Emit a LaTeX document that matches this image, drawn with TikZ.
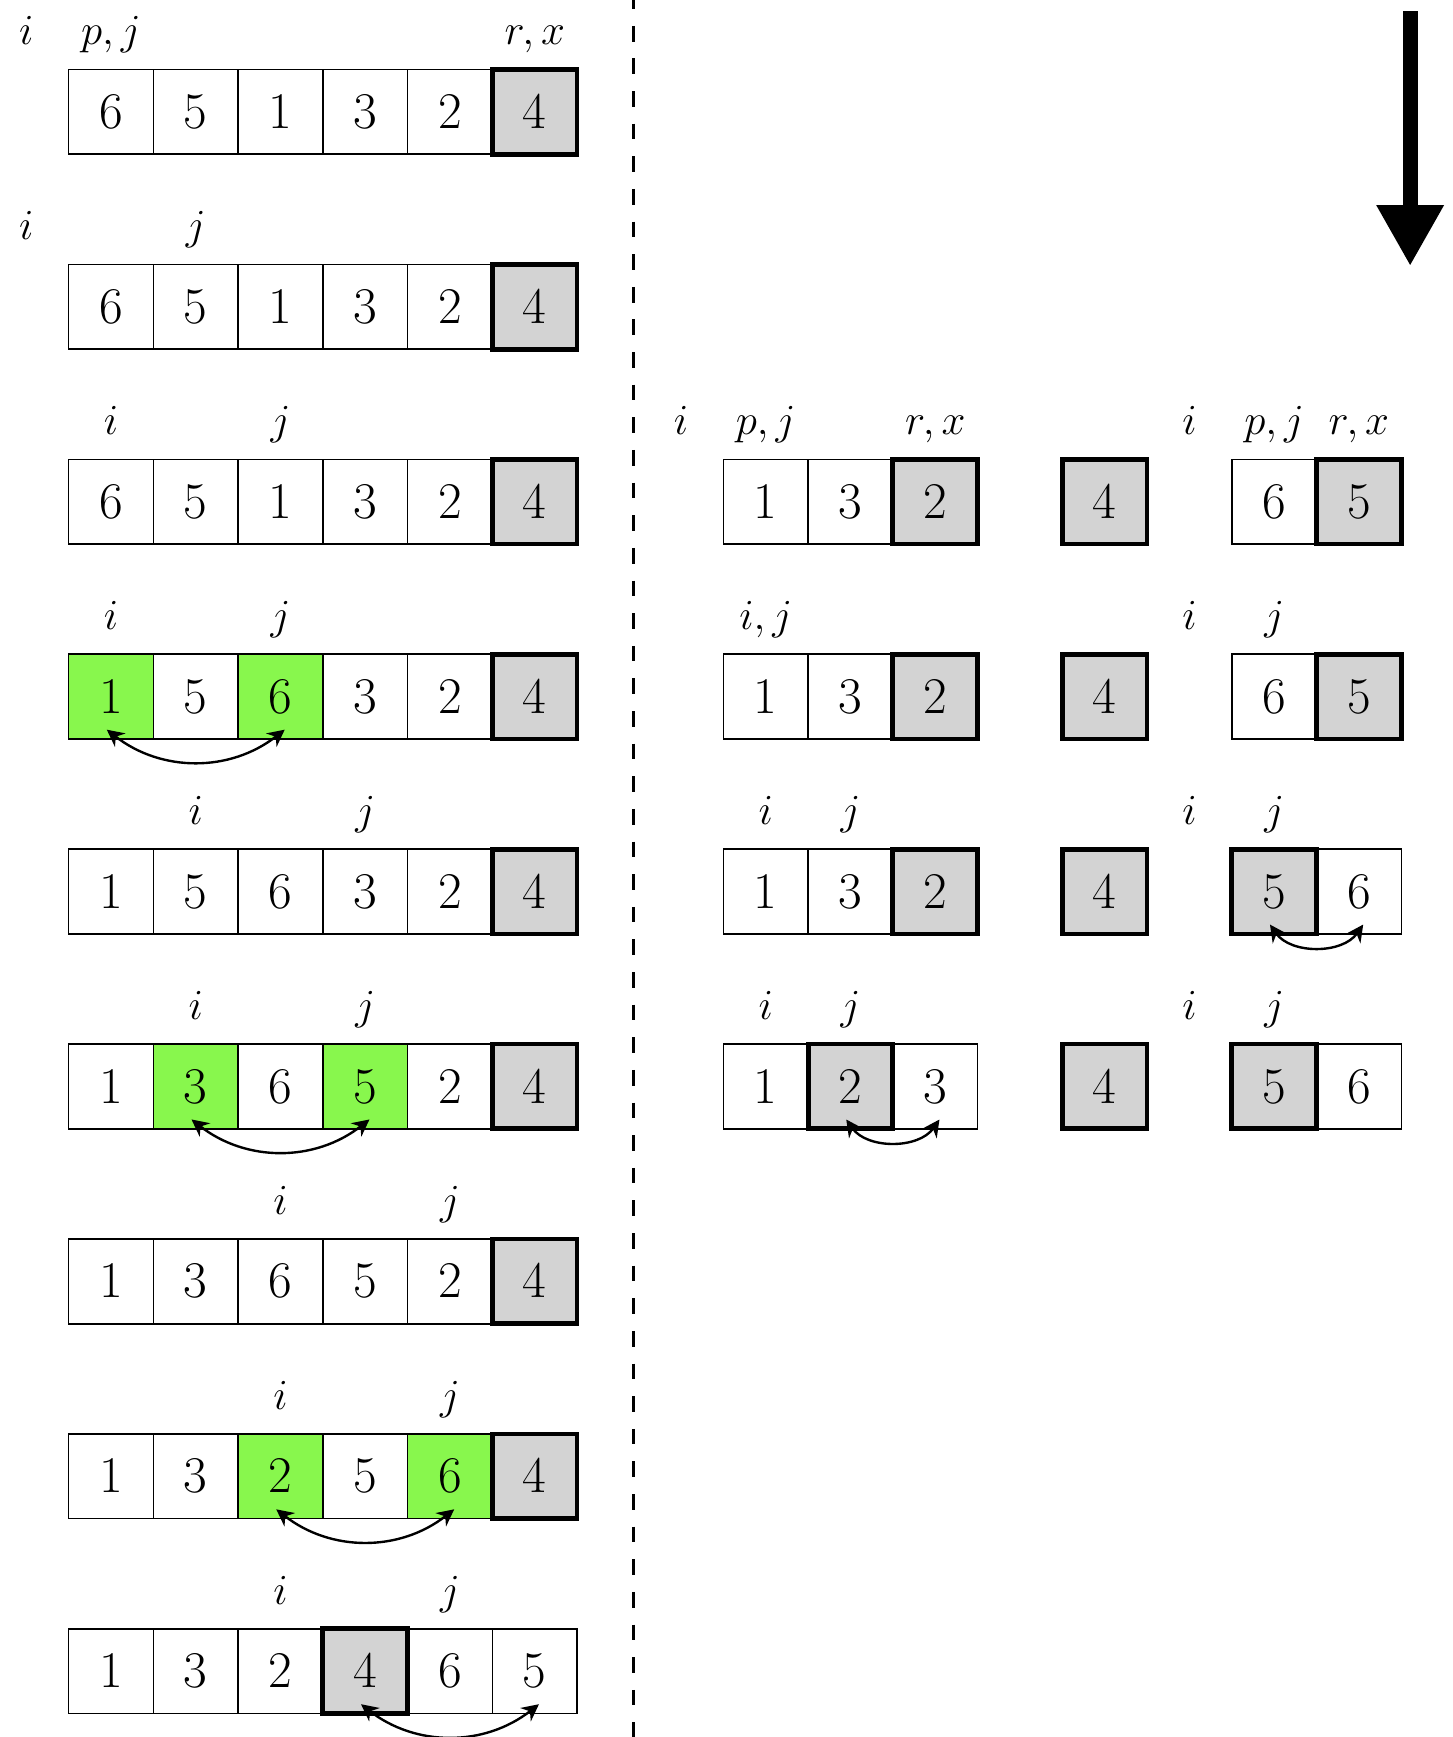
\documentclass[tikz,border=0pt]{standalone}
\usetikzlibrary{arrows.meta}
\definecolor{pivgray}{RGB}{211,211,211}
\definecolor{swgreen}{RGB}{136,247,77}
\tikzset{
  cellbox/.style={draw, line width=0.55pt, minimum width=1cm, minimum height=1cm,
    inner sep=0pt, outer sep=0pt, font=\fontsize{17.3}{20}\selectfont},
  cw/.style={fill=white},
  cp/.style={fill=pivgray, line width=1.6pt},
  cg/.style={fill=swgreen},
  lab/.style={font=\fontsize{15.5}{18}\selectfont, anchor=base, inner sep=0pt},
  swaparrow/.style={line width=0.8pt, {Stealth[length=2mm,width=2mm]}-{Stealth[length=2mm,width=2mm]}},
  divider/.style={line width=0.8pt, dash pattern=on 0.185cm off 0.2cm, dash phase=0.08cm},
  bigarrow/.style={line width=0.18cm, -{Triangle[width=0.745cm,length=0.72cm]}}
}
% #1 name, #2 x0, #3 row top y, #4 list index/value/style
\newcommand\cellrow[4]{%
  \foreach \k/\v/\s in {#4} {
    \node[cellbox,\s] (#1-\k) at ({#2+\k+0.5},{#3-0.5}) {$\v$};
  }%
}
% #1 name, #2 x0, #3 row top y, #4 cell index, #5 text
\newcommand\cellabel[5]{%
  \node[lab] (#1) at ({#2+#4+0.5},{#3+0.29}) {#5};%
}
\newcommand\swapcells[4]{% #1 row, #2 from, #3 to, #4 bend
  \draw[swaparrow] ([xshift=-0.05cm,yshift=0.11cm]#1-#2.south) to[bend right=#4] ([xshift=0.05cm,yshift=0.11cm]#1-#3.south);%
}
\begin{document}
\begin{tikzpicture}
\useasboundingbox (0,0) rectangle (17.137,-20.497);
\def\lx{0.81}
\def\rx{8.536}
% left column
\def\ya{-0.82}
\cellabel{a-i}{\lx}{\ya}{-1}{$i$}
\cellabel{a-pj}{\lx}{\ya}{0}{$p,j$}
\cellabel{a-rx}{\lx}{\ya}{5}{$r,x$}
\cellrow{a}{\lx}{\ya}{0/6/cw,1/5/cw,2/1/cw,3/3/cw,4/2/cw,5/4/cp}
\def\yb{-3.12}
\cellabel{b-i}{\lx}{\yb}{-1}{$i$}
\cellabel{b-j}{\lx}{\yb}{1}{$j$}
\cellrow{b}{\lx}{\yb}{0/6/cw,1/5/cw,2/1/cw,3/3/cw,4/2/cw,5/4/cp}
\def\yc{-5.42}
\cellabel{c-i}{\lx}{\yc}{0}{$i$}
\cellabel{c-j}{\lx}{\yc}{2}{$j$}
\cellrow{c}{\lx}{\yc}{0/6/cw,1/5/cw,2/1/cw,3/3/cw,4/2/cw,5/4/cp}
\def\yd{-7.72}
\cellabel{d-i}{\lx}{\yd}{0}{$i$}
\cellabel{d-j}{\lx}{\yd}{2}{$j$}
\cellrow{d}{\lx}{\yd}{0/1/cg,1/5/cw,2/6/cg,3/3/cw,4/2/cw,5/4/cp}
\swapcells{d}{0}{2}{38}
\def\ye{-10.02}
\cellabel{e-i}{\lx}{\ye}{1}{$i$}
\cellabel{e-j}{\lx}{\ye}{3}{$j$}
\cellrow{e}{\lx}{\ye}{0/1/cw,1/5/cw,2/6/cw,3/3/cw,4/2/cw,5/4/cp}
\def\yf{-12.32}
\cellabel{f-i}{\lx}{\yf}{1}{$i$}
\cellabel{f-j}{\lx}{\yf}{3}{$j$}
\cellrow{f}{\lx}{\yf}{0/1/cw,1/3/cg,2/6/cw,3/5/cg,4/2/cw,5/4/cp}
\swapcells{f}{1}{3}{38}
\def\yg{-14.62}
\cellabel{g-i}{\lx}{\yg}{2}{$i$}
\cellabel{g-j}{\lx}{\yg}{4}{$j$}
\cellrow{g}{\lx}{\yg}{0/1/cw,1/3/cw,2/6/cw,3/5/cw,4/2/cw,5/4/cp}
\def\yh{-16.92}
\cellabel{h-i}{\lx}{\yh}{2}{$i$}
\cellabel{h-j}{\lx}{\yh}{4}{$j$}
\cellrow{h}{\lx}{\yh}{0/1/cw,1/3/cw,2/2/cg,3/5/cw,4/6/cg,5/4/cp}
\swapcells{h}{2}{4}{38}
\def\yi{-19.22}
\cellabel{i-i}{\lx}{\yi}{2}{$i$}
\cellabel{i-j}{\lx}{\yi}{4}{$j$}
\cellrow{i}{\lx}{\yi}{0/1/cw,1/3/cw,2/2/cw,4/6/cw,5/5/cw,3/4/cp}
\swapcells{i}{3}{5}{38}
% divider
\coordinate (dtop) at (7.477,0);
\coordinate (dbot) at (7.477,-20.497);
\draw[divider] (dtop) -- (dbot);
% big arrow
\coordinate (atop) at (16.64,-0.13);
\coordinate (atip) at (16.64,-3.14);
\draw[bigarrow] (atop) -- (atip);
% right column
\cellabel{ra-i}{\rx}{\yc}{-1}{$i$}
\cellabel{ra-pj}{\rx}{\yc}{0}{$p,j$}
\cellabel{ra-rx}{\rx}{\yc}{2}{$r,x$}
\cellabel{ra-i2}{\rx}{\yc}{5}{$i$}
\cellabel{ra-pj2}{\rx}{\yc}{6}{$p,j$}
\cellabel{ra-rx2}{\rx}{\yc}{7}{$r,x$}
\cellrow{ra}{\rx}{\yc}{0/1/cw,1/3/cw,2/2/cp,4/4/cp,6/6/cw,7/5/cp}
\cellabel{rb-ij}{\rx}{\yd}{0}{$i,j$}
\cellabel{rb-i2}{\rx}{\yd}{5}{$i$}
\cellabel{rb-j2}{\rx}{\yd}{6}{$j$}
\cellrow{rb}{\rx}{\yd}{0/1/cw,1/3/cw,2/2/cp,4/4/cp,6/6/cw,7/5/cp}
\cellabel{rc-i}{\rx}{\ye}{0}{$i$}
\cellabel{rc-j}{\rx}{\ye}{1}{$j$}
\cellabel{rc-i2}{\rx}{\ye}{5}{$i$}
\cellabel{rc-j2}{\rx}{\ye}{6}{$j$}
\cellrow{rc}{\rx}{\ye}{0/1/cw,1/3/cw,2/2/cp,4/4/cp,7/6/cw,6/5/cp}
\swapcells{rc}{6}{7}{55}
\cellabel{rd-i}{\rx}{\yf}{0}{$i$}
\cellabel{rd-j}{\rx}{\yf}{1}{$j$}
\cellabel{rd-i2}{\rx}{\yf}{5}{$i$}
\cellabel{rd-j2}{\rx}{\yf}{6}{$j$}
\cellrow{rd}{\rx}{\yf}{0/1/cw,2/3/cw,1/2/cp,4/4/cp,7/6/cw,6/5/cp}
\swapcells{rd}{1}{2}{55}
\end{tikzpicture}
\end{document}
